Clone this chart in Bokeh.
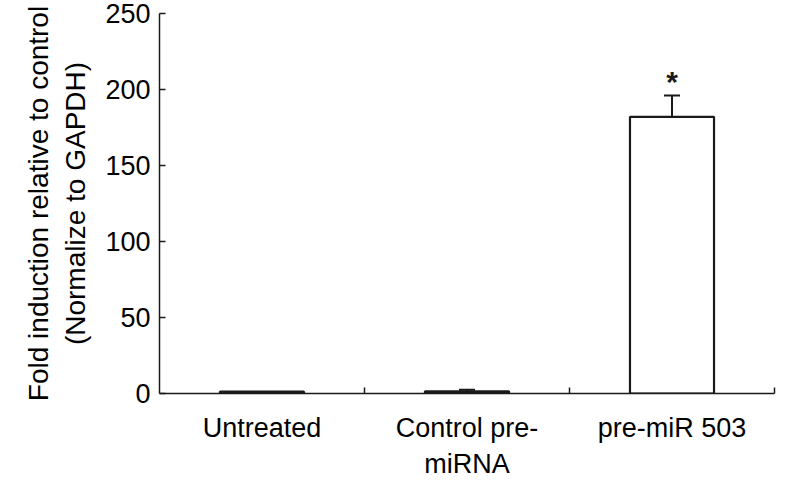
from bokeh.plotting import figure
from bokeh.models import (Range1d, LinearAxis, FixedTicker, ColumnDataSource,
                          Whisker, TeeHead)
from bokeh.core.properties import value
from bokeh.embed import file_html
from bokeh.resources import INLINE

# ---- data ----
categories = ["Untreated", "Control pre-\nmiRNA", "pre-miR 503"]
values = [1.2, 1.4, 182.0]
errors = [0.0, 1.0, 14.0]
significance = ["", "", "*"]
y_ticks = [0, 50, 100, 150, 200, 250]

FONT = "Liberation Sans"
DARK = "#1a1a1a"

xs = [i + 0.5 for i in range(len(categories))]
bounds = [i + 1 for i in range(len(categories))]

p = figure(width=779, height=474, output_backend="svg", toolbar_location=None,
           x_range=Range1d(0, len(categories)), y_range=Range1d(0, 250),
           x_axis_type=None, y_axis_type=None,
           frame_width=615, frame_height=380,
           min_border_left=159, min_border_top=13, min_border_right=5,
           min_border_bottom=10)
p.outline_line_color = None
p.background_fill_color = "white"
p.border_fill_color = "white"

# y axis
yax = LinearAxis(ticker=FixedTicker(ticks=y_ticks))
yax.major_tick_in = 6
yax.major_tick_out = 0
yax.minor_tick_line_color = None
yax.axis_line_color = DARK
yax.axis_line_width = 1.5
yax.major_tick_line_color = DARK
yax.major_tick_line_width = 1.5
yax.major_label_text_font = FONT
yax.major_label_text_font_size = "27px"
yax.major_label_text_color = "black"
yax.major_label_standoff = 9
yax.axis_label = "Fold induction relative to control\n(Normalize to GAPDH)"
yax.axis_label_text_font = FONT
yax.axis_label_text_font_size = "28px"
yax.axis_label_text_font_style = "normal"
yax.axis_label_text_color = "black"
yax.axis_label_standoff = 11
p.add_layout(yax, "left")

# x axis line with category boundary ticks
xax = LinearAxis(ticker=FixedTicker(ticks=bounds))
xax.major_label_overrides = {b: "" for b in bounds}
xax.major_label_text_font_size = "0px"
xax.major_label_standoff = 0
xax.major_tick_in = 6
xax.major_tick_out = 0
xax.minor_tick_line_color = None
xax.axis_line_color = DARK
xax.axis_line_width = 1.5
xax.major_tick_line_color = DARK
xax.major_tick_line_width = 1.5
p.add_layout(xax, "below")

# category labels
cax = LinearAxis(ticker=FixedTicker(ticks=xs))
cax.major_label_overrides = {x: c for x, c in zip(xs, categories)}
cax.axis_line_color = None
cax.major_tick_line_color = None
cax.minor_tick_line_color = None
cax.major_tick_in = 0
cax.major_tick_out = 0
cax.major_label_standoff = 19
cax.major_label_text_font = FONT
cax.major_label_text_font_size = "27px"
cax.major_label_text_color = "black"
p.add_layout(cax, "below")

src = ColumnDataSource(dict(x=xs, top=values))
p.vbar(x="x", top="top", width=0.41, bottom=0, source=src,
       fill_color="white", line_color=DARK, line_width=2.2)

ex = [x for x, e in zip(xs, errors) if e > 0]
eu = [v + e for v, e in zip(values, errors) if e > 0]
el = [v for v, e in zip(values, errors) if e > 0]
esrc = ColumnDataSource(dict(x=ex, upper=eu, lower=el))
w = Whisker(base="x", upper="upper", lower="lower", source=esrc,
            line_color=DARK, line_width=2,
            upper_head=TeeHead(size=16, line_color=DARK, line_width=2),
            lower_head=None)
p.add_layout(w)

sx = [x for x, s in zip(xs, significance) if s]
sy = [v + e + 9 for v, e, s in zip(values, errors, significance) if s]
st = [s for s in significance if s]
p.text(x=sx, y=sy, text=st, text_align="center", text_baseline="middle",
       text_font=value(FONT), text_font_size="30px", text_font_style="bold",
       text_color=DARK)

open("out.html", "w").write(file_html(p, INLINE))
